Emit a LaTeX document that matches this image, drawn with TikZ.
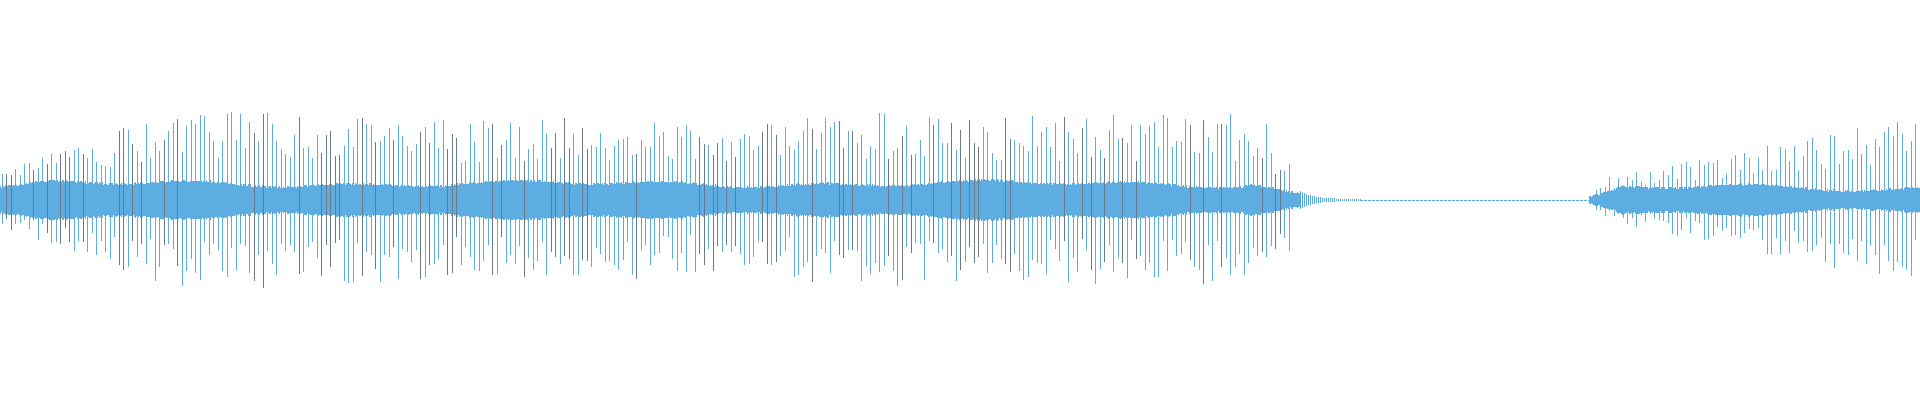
\documentclass[tikz,border=0pt]{standalone}
\definecolor{wave}{HTML}{5DADE2}
\definecolor{waved}{HTML}{6A7A88}
\begin{document}
\begin{tikzpicture}[x=1pt,y=1pt,wl/.style={wave,line width=0.45pt},wg/.style={waved,line width=0.4pt},wb/.style={wave,line width=1.3pt}]
\useasboundingbox (0,0) rectangle (1920,400);
\pgfmathsetseed{7}
% dense band, first part
\foreach \x in {0,1.2,...,1300}{
  \pgfmathsetmacro{\h}{(\x<50?12+\x*0.12:(\x<1250?15+2*sin(\x*0.8)+2*sin(\x*2.3):15-(\x-1250)*0.2))+2.5*rnd}
  \draw[wb] (\x,200-\h) -- (\x,200+\h);
}
% decay tail
\foreach \x in {1300,1302,...,1360}{
  \pgfmathsetmacro{\h}{8*exp(-(\x-1300)/14)+0.8}
  \draw[wl] (\x,200-\h) -- (\x,200+\h);
}
\draw[wave,line width=0.8pt,dash pattern=on 3pt off 1pt] (1360,200) -- (1592,200);
% spikes first part
\foreach \x in {2,6.5,...,1290}{
  \pgfmathsetmacro{\env}{(\x<160?30+\x*0.35:(\x<600?86+6*sin(\x*0.6):(\x<1000?82+6*sin(\x*0.9):86)))*(\x>1270?0.6:1)}
  \pgfmathsetmacro{\h}{\env*(0.45+0.55*rnd)}
  \pgfmathsetmacro{\hb}{\env*(0.45+0.55*rnd)}
  \pgfmathtruncatemacro{\g}{rnd<0.25?1:0}
  \ifnum\g=1 \draw[wg] (\x,200-\hb) -- (\x,200+\h);
  \else \draw[wl] (\x,200-\hb) -- (\x,200+\h); \fi
}
% second part band
\foreach \x in {1590,1591.2,...,1920}{
  \pgfmathsetmacro{\h}{(\x<1620?2+(\x-1590)*0.3:11+2*sin(\x*0.9)+2*sin(\x*2.1))+2.5*rnd}
  \draw[wb] (\x,200-\h) -- (\x,200+\h);
}
% second part spikes
\foreach \x in {1596,1600.5,...,1918}{
  \pgfmathsetmacro{\env}{20+(\x-1592)*0.2}
  \pgfmathsetmacro{\h}{\env*(0.45+0.55*rnd)}
  \pgfmathsetmacro{\hb}{\env*(0.45+0.55*rnd)}
  \draw[wl] (\x,200-\hb) -- (\x,200+\h);
}
\end{tikzpicture}
\end{document}
